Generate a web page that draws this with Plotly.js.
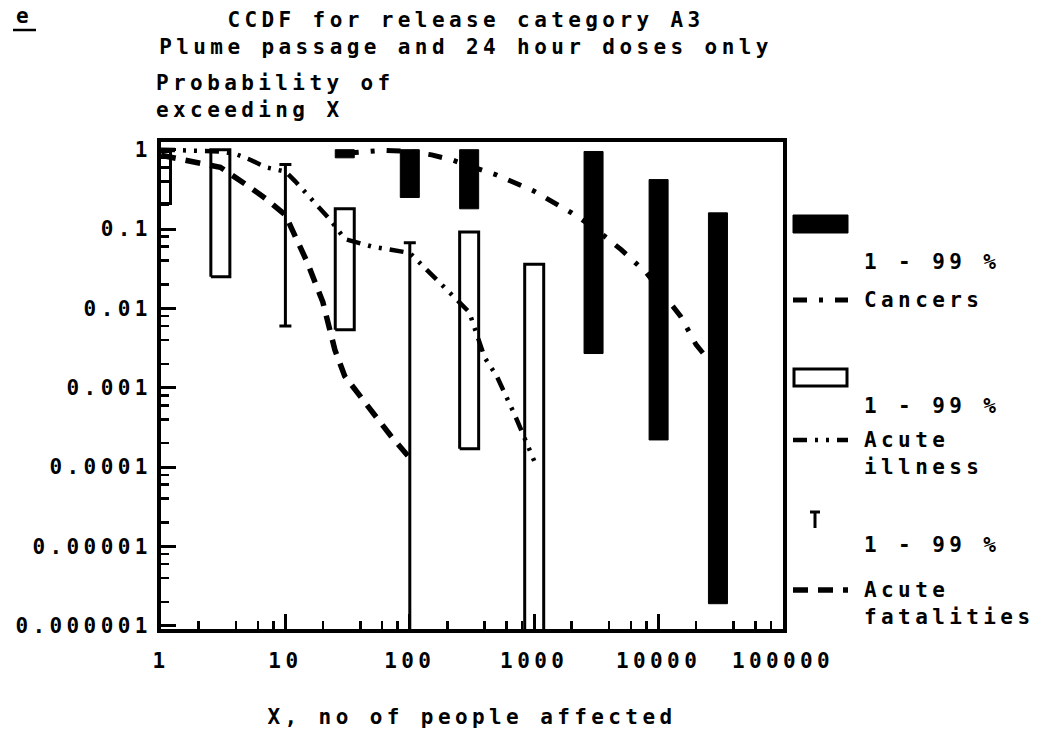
<!DOCTYPE html>
<html><head><meta charset="utf-8">
<script src="https://cdn.plot.ly/plotly-3.0.1.min.js"></script>
<style>
html,body{margin:0;padding:0;background:#fff;}
#chart{width:1049px;height:739px;}
text{letter-spacing:4.4px;}
</style></head><body><div id="chart"></div>
<script>
// ---------------- data ----------------
const xTickVals = [1, 10, 100, 1000, 10000, 100000];
const xTickText = ["1", "10", "100", "1000", "10000", "100000"];
const yTickVals = [0.000001, 0.00001, 0.0001, 0.001, 0.01, 0.1, 1];
const yTickText = ["0.000001", "0.00001", "0.0001", "0.001", "0.01", "0.1", "1"];

// Cancers CCDF (dash-dot)
const cancerX = [30, 60, 100, 150, 220, 300, 500, 800, 1000, 2000, 3000, 5000, 8000, 10000, 15000, 20000, 30000];
const cancerP = [0.9, 0.98, 0.95, 0.86, 0.74, 0.63, 0.48, 0.35, 0.3, 0.16, 0.105, 0.055, 0.028, 0.018, 0.008, 0.0035, 0.0016];
// Cancers 1 - 99 % bands (filled bars)
const cancerBandX  = [30, 100, 300, 3000, 10000, 30000];
const cancerBandLo = [0.79, 0.25, 0.18, 0.0027, 0.00022, 0.0000019];
const cancerBandHi = [1.0, 1.0, 1.0, 0.95, 0.42, 0.16];

// Acute illness CCDF (dash-dot-dot)
const illnessX = [1, 2, 3, 4, 5, 7, 10, 12, 15, 20, 23, 30, 50, 100, 130, 200, 300, 400, 500, 700, 1000];
const illnessP = [1.0, 0.98, 0.95, 0.88, 0.77, 0.6, 0.53, 0.4, 0.27, 0.16, 0.13, 0.075, 0.06, 0.05, 0.033, 0.017, 0.009, 0.0024, 0.0014, 0.00045, 0.00012];
// Acute illness 1 - 99 % bands (open bars)
const illnessBandX  = [1, 3, 30, 300, 1000];
const illnessBandLo = [0.21, 0.025, 0.0054, 0.00017, 0.0000005];
const illnessBandHi = [0.95, 1.0, 0.18, 0.092, 0.036];

// Acute fatalities CCDF (dashed)
const fatalX = [1, 2, 3, 5, 7, 10, 15, 20, 25, 30, 50, 70, 100];
const fatalP = [0.85, 0.68, 0.6, 0.35, 0.24, 0.15, 0.038, 0.012, 0.003, 0.0014, 0.0005, 0.00025, 0.00013];
// Acute fatalities 1 - 99 % ranges (error bars)
const fatalBandX  = [10, 100];
const fatalBandLo = [0.006, 0.0000005];
const fatalBandHi = [0.65, 0.067];

// ---------------- styling ----------------
const FONT = 'DejaVu Sans Mono, monospace';
const HALF_DEC = 0.0764;            // half bar width in decades
const DASH_CANCER = '14px,12px,4px,12px';
const DASH_ILL = '14px,8px,3px,8px,3px,8px';
const DASH_FATAL = '15px,10px';

function boxes(xs, lo, hi) {
  const k = Math.pow(10, HALF_DEC);
  const X = [], Y = [];
  xs.forEach((c, i) => {
    X.push(c / k, c * k, c * k, c / k, c / k, null);
    Y.push(lo[i], lo[i], hi[i], hi[i], lo[i], null);
  });
  return {X, Y};
}
const ob = boxes(illnessBandX, illnessBandLo, illnessBandHi);
const fb = boxes(cancerBandX, cancerBandLo, cancerBandHi);

const traces = [
  {x: ob.X, y: ob.Y, mode: 'lines', fill: 'toself', fillcolor: 'white',
   line: {color: 'black', width: 3}, hoverinfo: 'skip', name: 'Acute illness 1-99 %'},
  {x: fb.X, y: fb.Y, mode: 'lines', fill: 'toself', fillcolor: 'black',
   line: {color: 'black', width: 1}, hoverinfo: 'skip', name: 'Cancers 1-99 %'},
  {x: cancerX, y: cancerP, mode: 'lines', name: 'Cancers',
   line: {color: 'black', width: 5, dash: DASH_CANCER}},
  {x: illnessX, y: illnessP, mode: 'lines', name: 'Acute illness',
   line: {color: 'black', width: 4.5, dash: DASH_ILL}},
  {x: fatalX, y: fatalP, mode: 'lines', name: 'Acute fatalities',
   line: {color: 'black', width: 5.5, dash: DASH_FATAL}},
  {x: fatalBandX, y: fatalBandHi, mode: 'markers', name: 'Acute fatalities 1-99 %',
   marker: {size: 1, opacity: 0},
   error_y: {type: 'data', symmetric: false,
             array: fatalBandX.map(() => 0),
             arrayminus: fatalBandHi.map((h, i) => h - fatalBandLo[i]),
             width: 6, thickness: 3, color: 'black'}}
];

// minor tick positions (2,4,6,8 per decade)
const xMinor = [], yMinor = [];
for (let d = 0; d < 5; d++) [2, 4, 6, 8].forEach(m => xMinor.push(m * Math.pow(10, d)));
for (let d = -6; d < 0; d++) [2, 4, 6, 8].forEach(m => yMinor.push(m * Math.pow(10, d)));

// pixel -> paper helpers for annotation / legend placement
const L = 161, T = 142, W = 622, H = 487;
const PX = px => (px - L) / W;
const PY = py => (T + H - py) / H;

const annots = [];
function txt(text, px, py, opts) {
  annots.push(Object.assign({text: text, xref: 'paper', yref: 'paper', x: PX(px), y: PY(py),
    xanchor: 'left', yanchor: 'middle', align: 'left', showarrow: false,
    font: {family: FONT, size: 21, color: 'black', weight: 'bold'}}, opts || {}));
}
txt('e', 14, 16);
txt('Probability of<br>exceeding X', 154, 96);
txt('1 - 99 %', 862, 262);
txt('Cancers', 862, 300);
txt('1 - 99 %', 862, 406);
txt('Acute<br>illness', 862, 453);
txt('1 - 99 %', 862, 545);
txt('Acute<br>fatalities', 862, 603);

function pline(x0, y0, x1, y1, w, dash) {
  return {type: 'line', xref: 'paper', yref: 'paper', x0: PX(x0), y0: PY(y0), x1: PX(x1), y1: PY(y1),
          line: {color: 'black', width: w, dash: dash || 'solid'}};
}
function prect(x0, y0, x1, y1, fill, w) {
  return {type: 'rect', xref: 'paper', yref: 'paper', x0: PX(x0), y0: PY(y0), x1: PX(x1), y1: PY(y1),
          fillcolor: fill, line: {color: 'black', width: w}};
}
const shapes = [
  pline(13, 30, 36, 30, 2.5),
  prect(793, 215, 848, 233, 'black', 1),
  pline(793, 300, 848, 300, 5, DASH_CANCER),
  prect(794, 369, 847, 386, 'white', 3),
  pline(793, 440, 848, 440, 4.5, DASH_ILL),
  pline(815, 512, 815, 528, 3),
  pline(810, 512, 820, 512, 3),
  pline(793, 590, 848, 590, 5.5, DASH_FATAL)
];

const axisCommon = {
  type: 'log', tickmode: 'array', ticks: 'inside', ticklen: 15, tickwidth: 3, tickcolor: 'black',
  showline: true, linewidth: 4, linecolor: 'black', mirror: true, showgrid: false, zeroline: false,
  tickfont: {family: FONT, size: 21, color: 'black', weight: 'bold'}
};

const layout = {
  width: 1049, height: 739,
  margin: {l: L, r: 1049 - L - W, t: T, b: 739 - T - H},
  paper_bgcolor: 'white', plot_bgcolor: 'white', showlegend: false,
  font: {family: FONT, size: 21, color: 'black', weight: 'bold'},
  title: {text: 'CCDF for release category A3<br>Plume passage and 24 hour doses only',
          xref: 'container', yref: 'container', x: 466 / 1049, xanchor: 'center',
          y: 1 - 27 / 739, yanchor: 'top',
          font: {family: FONT, size: 21, color: 'black', weight: 'bold'}},
  xaxis: Object.assign({}, axisCommon, {
    range: [0, 5], tickvals: xTickVals, ticktext: xTickText, ticklabelstandoff: 10,
    minor: {tickmode: 'array', tickvals: xMinor, ticks: 'inside', ticklen: 8, tickwidth: 2.5, tickcolor: 'black', showgrid: false},
    title: {text: 'X, no of people affected', standoff: 38,
            font: {family: FONT, size: 21, color: 'black', weight: 'bold'}}
  }),
  yaxis: Object.assign({}, axisCommon, {
    range: [-6.04, 0.097], tickvals: yTickVals, ticktext: yTickText, ticklabelstandoff: 1,
    minor: {tickmode: 'array', tickvals: yMinor, ticks: 'inside', ticklen: 8, tickwidth: 2.5, tickcolor: 'black', showgrid: false}
  }),
  annotations: annots,
  shapes: shapes
};

Plotly.newPlot('chart', traces, layout, {displayModeBar: false, staticPlot: true});
</script></body></html>
